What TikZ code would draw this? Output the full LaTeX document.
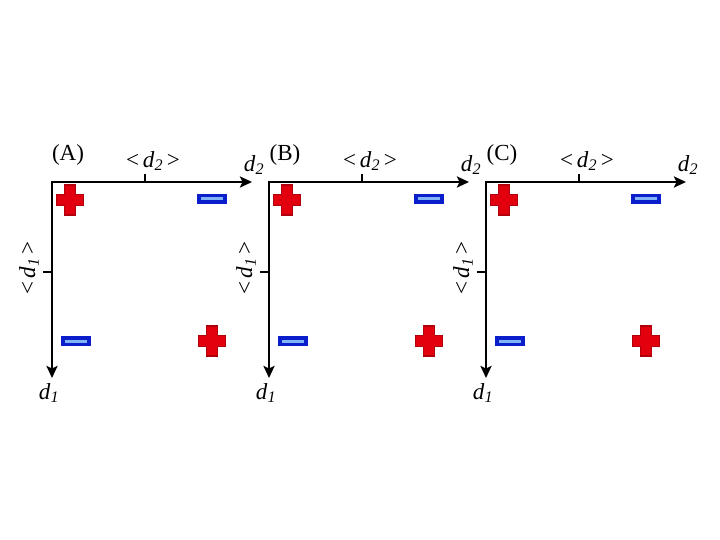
\documentclass[tikz,border=0pt]{standalone}
\usepackage{fontspec}
\setmainfont{Liberation Serif}
\usetikzlibrary{arrows.meta,positioning}
\definecolor{plusred}  {HTML}{E2000F}
\definecolor{plusdark} {HTML}{B0000C}
\definecolor{minusblue}{HTML}{0A1ECC}
\definecolor{minuslt}  {HTML}{80B4F6}

\begin{document}
\begin{tikzpicture}[x=1pt, y=-1pt,
   axis/.style={line width=2.8pt, line join=miter,
                {Stealth[length=12pt,width=11pt,inset=2.5pt]}-{Stealth[length=12pt,width=11pt,inset=2.5pt]}},
   tick/.style={line width=2.8pt},
   lab/.style={font=\fontsize{23}{26}\selectfont, inner sep=0pt},
   minusmark/.style={rectangle, draw=minusblue, fill=minusblue, line width=0.8pt,
                     minimum width=29pt, minimum height=9pt, inner sep=0pt},
   minusline/.style={draw=minuslt, line width=3pt},
   plusmark/.style={fill=plusred, draw=plusdark, line width=1.2pt, line join=miter}
]
\useasboundingbox (0,0) rectangle (720,540);
\foreach \p/\ox in {A/0,B/217,C/434}{
  % axes
  \coordinate (o\p) at (52+\ox,182);
  \coordinate (x\p) at (252+\ox,182);
  \coordinate (y\p) at (52+\ox,378);
  \draw[axis] (x\p) -- (o\p) -- (y\p);
  \coordinate (t\p) at (145+\ox,182);
  \coordinate (s\p) at (52+\ox,272);
  \draw[tick] (t\p) -- ++(0,-8);
  \draw[tick] (s\p) -- ++(-9,0);
  % labels
  \node[lab] (n\p) at (68+\ox,155) {(\p)};
  \node[lab] (m2\p) at (153+\ox,161) {<\,\textit{d}\textsubscript{\textit{2}}\,>};
  \node[lab] (e2\p) at (254+\ox,165) {\textit{d}\textsubscript{\textit{2}}};
  \node[lab, rotate=90] (m1\p) at (29+\ox,268) {<\,\textit{d}\textsubscript{\textit{1}}\,>};
  \node[lab] (e1\p) at (49+\ox,393) {\textit{d}\textsubscript{\textit{1}}};
  % charges
  \foreach \cx/\cy in {70/200,212/341}{
    \draw[plusmark, shift={(\cx+\ox,\cy)}]
      (-5.5,-15) -- (5.5,-15) -- (5.5,-5.5) -- (13.5,-5.5) -- (13.5,5.5) -- (5.5,5.5) -- (5.5,15)
      -- (-5.5,15) -- (-5.5,5.5) -- (-13.5,5.5) -- (-13.5,-5.5) -- (-5.5,-5.5) -- cycle;
  }
  \node[minusmark] (mu\p) at (212+\ox,199) {};
  \node[minusmark] (md\p) at (76+\ox,341) {};
  \draw[minusline] ([xshift=4pt]mu\p.west) -- ([xshift=-4pt]mu\p.east);
  \draw[minusline] ([xshift=4pt]md\p.west) -- ([xshift=-4pt]md\p.east);
}
\end{tikzpicture}
\end{document}
